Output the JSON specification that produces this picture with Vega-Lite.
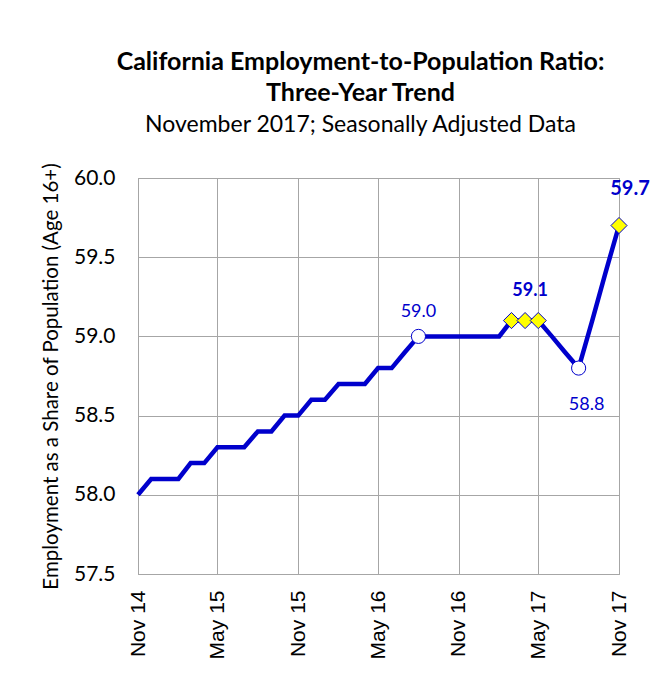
{
  "$schema": "https://vega.github.io/schema/vega-lite/v6.json",
  "width": 481,
  "height": 396,
  "autosize": {"type": "none"},
  "padding": {"left": 138, "top": 178, "right": 33, "bottom": 99},
  "background": "white",
  "title": {
    "text": ["California Employment-to-Population Ratio:", "Three-Year Trend"],
    "subtitle": "November 2017; Seasonally Adjusted Data",
    "font": "Lato",
    "fontSize": 25,
    "fontWeight": "bold",
    "lineHeight": 31,
    "color": "black",
    "subtitleFont": "Lato",
    "subtitleFontSize": 23,
    "subtitleColor": "black",
    "subtitlePadding": 8,
    "anchor": "middle",
    "frame": "group",
    "dx": -18,
    "offset": 26
  },
  "data": {
    "values": [
      {"date": "2014-11-01", "value": 58.0},
      {"date": "2014-12-01", "value": 58.1},
      {"date": "2015-01-01", "value": 58.1},
      {"date": "2015-02-01", "value": 58.1},
      {"date": "2015-03-01", "value": 58.2},
      {"date": "2015-04-01", "value": 58.2},
      {"date": "2015-05-01", "value": 58.3},
      {"date": "2015-06-01", "value": 58.3},
      {"date": "2015-07-01", "value": 58.3},
      {"date": "2015-08-01", "value": 58.4},
      {"date": "2015-09-01", "value": 58.4},
      {"date": "2015-10-01", "value": 58.5},
      {"date": "2015-11-01", "value": 58.5},
      {"date": "2015-12-01", "value": 58.6},
      {"date": "2016-01-01", "value": 58.6},
      {"date": "2016-02-01", "value": 58.7},
      {"date": "2016-03-01", "value": 58.7},
      {"date": "2016-04-01", "value": 58.7},
      {"date": "2016-05-01", "value": 58.8},
      {"date": "2016-06-01", "value": 58.8},
      {"date": "2016-07-01", "value": 58.9},
      {"date": "2016-08-01", "value": 59.0, "marker": "circle", "label": "59.0"},
      {"date": "2016-09-01", "value": 59.0},
      {"date": "2016-10-01", "value": 59.0},
      {"date": "2016-11-01", "value": 59.0},
      {"date": "2016-12-01", "value": 59.0},
      {"date": "2017-01-01", "value": 59.0},
      {"date": "2017-02-01", "value": 59.0},
      {"date": "2017-03-01", "value": 59.1, "marker": "diamond"},
      {"date": "2017-04-01", "value": 59.1, "marker": "diamond", "label": "59.1"},
      {"date": "2017-05-01", "value": 59.1, "marker": "diamond"},
      {"date": "2017-06-01", "value": 59.0},
      {"date": "2017-07-01", "value": 58.9},
      {"date": "2017-08-01", "value": 58.8, "marker": "circle", "label": "58.8"},
      {"date": "2017-09-01", "value": 59.1},
      {"date": "2017-10-01", "value": 59.4},
      {"date": "2017-11-01", "value": 59.7, "marker": "diamond", "label": "59.7"}
    ]
  },
  "encoding": {
    "x": {
      "field": "date",
      "type": "temporal",
      "scale": {
        "type": "utc",
        "domain": [
          {"year": 2014, "month": 11, "date": 1, "utc": true},
          {"year": 2017, "month": 11, "date": 1, "utc": true}
        ]
      },
      "axis": {
        "title": null,
        "values": [
          {"year": 2014, "month": 11, "date": 1, "utc": true},
          {"year": 2015, "month": 5, "date": 1, "utc": true},
          {"year": 2015, "month": 11, "date": 1, "utc": true},
          {"year": 2016, "month": 5, "date": 1, "utc": true},
          {"year": 2016, "month": 11, "date": 1, "utc": true},
          {"year": 2017, "month": 5, "date": 1, "utc": true},
          {"year": 2017, "month": 11, "date": 1, "utc": true}
        ],
        "labelExpr": "utcFormat(datum.value, '%b %y')",
        "labelAngle": -90,
        "labelFont": "Liberation Sans",
        "labelFontSize": 21,
        "labelColor": "black",
        "labelPadding": 16,
        "labelOverlap": false,
        "ticks": false,
        "grid": true,
        "gridColor": "#A6A6A6",
        "gridWidth": 1,
        "domainColor": "#A6A6A6",
        "domainWidth": 1
      }
    },
    "y": {
      "field": "value",
      "type": "quantitative",
      "scale": {"domain": [57.5, 60.0], "nice": false, "zero": false},
      "axis": {
        "title": "Employment as a Share of Population (Age 16+)",
        "titleFont": "Lato",
        "titleFontSize": 20.5,
        "titleFontWeight": "normal",
        "titleColor": "black",
        "titlePadding": 12,
        "values": [57.5, 58.0, 58.5, 59.0, 59.5, 60.0],
        "format": ".1f",
        "labelFont": "Lato",
        "labelFontSize": 21,
        "labelColor": "black",
        "labelPadding": 23,
        "ticks": false,
        "grid": true,
        "gridColor": "#A6A6A6",
        "gridWidth": 1,
        "domainColor": "#A6A6A6",
        "domainWidth": 1
      }
    }
  },
  "layer": [
    {
      "mark": {"type": "line", "color": "#0000CC", "strokeWidth": 4.5, "strokeJoin": "miter", "clip": false}
    },
    {
      "transform": [{"filter": "datum.marker == 'circle'"}],
      "mark": {"type": "point", "shape": "circle", "filled": true, "fill": "white", "stroke": "#0000CC", "strokeWidth": 1, "size": 200, "opacity": 1}
    },
    {
      "transform": [{"filter": "datum.marker == 'diamond'"}],
      "mark": {"type": "point", "shape": "diamond", "filled": true, "fill": "#FFFF00", "stroke": "#0000CC", "strokeWidth": 1, "size": 260, "opacity": 1}
    },
    {
      "transform": [{"filter": "datum.label == '59.0'"}],
      "mark": {"type": "text", "font": "Lato", "fontSize": 18, "color": "#0000CC", "dy": -24, "baseline": "middle"},
      "encoding": {"text": {"field": "label"}}
    },
    {
      "transform": [{"filter": "datum.label == '59.1'"}],
      "mark": {"type": "text", "font": "Lato", "fontSize": 18, "fontWeight": "bold", "color": "#0000CC", "dx": 5, "dy": -30, "baseline": "middle"},
      "encoding": {"text": {"field": "label"}}
    },
    {
      "transform": [{"filter": "datum.label == '58.8'"}],
      "mark": {"type": "text", "font": "Lato", "fontSize": 18, "color": "#0000CC", "dx": 8, "dy": 37, "baseline": "middle"},
      "encoding": {"text": {"field": "label"}}
    },
    {
      "transform": [{"filter": "datum.label == '59.7'"}],
      "mark": {"type": "text", "font": "Lato", "fontSize": 20, "fontWeight": "bold", "color": "#0000CC", "dx": 11, "dy": -37, "baseline": "middle"},
      "encoding": {"text": {"field": "label"}}
    }
  ],
  "config": {
    "view": {"stroke": "#A6A6A6", "strokeWidth": 1}
  }
}
